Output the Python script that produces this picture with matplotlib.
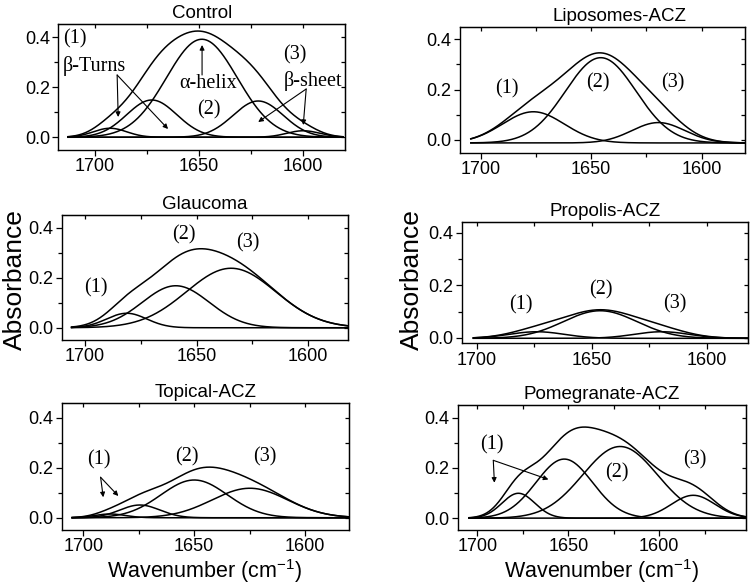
import numpy as np
import matplotlib
matplotlib.use('Agg')
import matplotlib.pyplot as plt
from matplotlib.ticker import MultipleLocator

#------------------------------------------------------------------------------
# Datos (bandas gaussianas de la amida I leidas de la figura)
#------------------------------------------------------------------------------

titulos = ['Control', 'Liposomes-ACZ', 'Glaucoma', 'Propolis-ACZ',
           'Topical-ACZ', 'Pomegranate-ACZ']

# Control
control_centros = [1692.6, 1672.6, 1648.6, 1621.6, 1600.0]
control_alturas = [0.036, 0.149, 0.392, 0.145, 0.026]
control_anchos = [8, 12, 17, 12, 8]
control_rango = [1712.7, 1581.0]
control_base = 0.0

# Liposomes-ACZ
lipo_centros = [1676.2, 1645.7, 1619.6]
lipo_alturas = [0.124, 0.339, 0.081]
lipo_anchos = [14, 16, 12]
lipo_rango = [1704.5, 1580.4]
lipo_base = -0.012

# Glaucoma
glau_centros = [1681.3, 1659.3, 1634.5]
glau_alturas = [0.058, 0.168, 0.238]
glau_anchos = [9, 15, 20]
glau_rango = [1706.0, 1582.1]
glau_base = 0.0

# Propolis-ACZ
prop_centros = [1674.0, 1646.4, 1619.6]
prop_alturas = [0.025, 0.105, 0.025]
prop_anchos = [12, 16, 12]
prop_rango = [1701.6, 1582.0]
prop_base = -0.002

# Topical-ACZ
topi_centros = [1688.0, 1674.5, 1650.0, 1624.9]
topi_alturas = [0.015, 0.051, 0.151, 0.118]
topi_anchos = [7, 9, 15, 17]
topi_rango = [1705.0, 1580.2]
topi_base = 0.0

# Pomegranate-ACZ
pome_centros = [1677.4, 1652.2, 1621.5, 1581.3]
pome_alturas = [0.099, 0.235, 0.285, 0.091]
pome_anchos = [9, 15.5, 20.5, 12]
pome_rango = [1704.5, 1552.5]
pome_base = 0.0

#------------------------------------------------------------------------------
# Funciones
#------------------------------------------------------------------------------

W, H = 750, 587


def rect_px(izq, der, arriba, abajo):
    # Convierte una caja en pixeles a coordenadas de figura
    return [izq / W, 1 - abajo / H, (der - izq) / W, (abajo - arriba) / H]


def dibujar_panel(ax, centros, alturas, anchos, rango, base):
    x = np.linspace(rango[0], rango[1], 600)
    total = np.zeros_like(x)
    for c, h, s in zip(centros, alturas, anchos):
        y = h * np.exp(-(x - c) ** 2 / (2 * s ** 2))
        total += y
        ax.plot(x, y + base, color='k', lw=1.1)
    ax.plot(x, total + base, color='k', lw=1.1)


def estilo_ejes(ax, xlim, ylim, titulo, tx=0.5):
    ax.set_xlim(xlim)
    ax.set_ylim(ylim)
    ax.xaxis.set_major_locator(MultipleLocator(50))
    ax.xaxis.set_minor_locator(MultipleLocator(25))
    ax.yaxis.set_major_locator(MultipleLocator(0.2))
    ax.yaxis.set_minor_locator(MultipleLocator(0.1))
    ax.tick_params(which='both', direction='out', labelsize=13, width=0.9,
                   pad=2)
    ax.tick_params(which='major', length=4)
    ax.tick_params(which='minor', length=3)
    for sp in ax.spines.values():
        sp.set_linewidth(1.0)
    # ticks hacia adentro arriba y a la derecha (estilo Origin)
    arriba = ax.secondary_xaxis('top')
    arriba.xaxis.set_major_locator(MultipleLocator(50))
    arriba.xaxis.set_minor_locator(MultipleLocator(25))
    arriba.tick_params(which='both', direction='in', labeltop=False,
                       length=3, width=0.9)
    derecha = ax.secondary_yaxis('right')
    derecha.yaxis.set_major_locator(MultipleLocator(0.1))
    derecha.tick_params(which='both', direction='in', labelright=False,
                        length=3, width=0.9)
    ax.set_title(titulo, fontsize=13.5, pad=4, x=tx)


def flecha(ax, cola, punta):
    ax.annotate('', xy=punta, xytext=cola,
                arrowprops=dict(arrowstyle='-|>', color='k', lw=0.8,
                                mutation_scale=7, shrinkA=0, shrinkB=0))


def etiqueta(ax, x, y, texto, ha='center'):
    ax.text(x, y, texto, fontsize=14.5, family='Liberation Serif',
            ha=ha, va='center')


#------------------------------------------------------------------------------
# Main
#------------------------------------------------------------------------------

plt.rcParams['font.family'] = 'Liberation Sans'
plt.rcParams['mathtext.fontset'] = 'custom'
plt.rcParams['mathtext.rm'] = 'Liberation Sans'

fig = plt.figure(figsize=(7.5, 5.87), dpi=100)

ax1 = fig.add_axes(rect_px(58.3, 345, 24, 150))
ax2 = fig.add_axes(rect_px(460, 745, 27, 153))
ax3 = fig.add_axes(rect_px(62, 348, 215, 340))
ax4 = fig.add_axes(rect_px(461.7, 748, 221.7, 343.3))
ax5 = fig.add_axes(rect_px(62, 349, 403, 530))
ax6 = fig.add_axes(rect_px(458, 746, 405, 530))

# Control
dibujar_panel(ax1, control_centros, control_alturas, control_anchos,
              control_rango, control_base)
estilo_ejes(ax1, (1717.4, 1580), (-0.051, 0.453), titulos[0])
etiqueta(ax1, 1715.1, 0.393, '(1)', ha='left')
etiqueta(ax1, 1715.1, 0.285, 'β-Turns', ha='left')
flecha(ax1, (1689.2, 0.249), (1688.7, 0.081))
flecha(ax1, (1689.2, 0.249), (1664.8, 0.033))
etiqueta(ax1, 1645.6, 0.213, 'α-helix')
flecha(ax1, (1648.5, 0.249), (1648.5, 0.369))
etiqueta(ax1, 1645.1, 0.109, '(2)')
etiqueta(ax1, 1603.9, 0.329, '(3)')
etiqueta(ax1, 1595.2, 0.225, 'β-sheet')
flecha(ax1, (1598.6, 0.193), (1621.6, 0.061))
flecha(ax1, (1598.6, 0.193), (1600.0, 0.049))

# Liposomes-ACZ
dibujar_panel(ax2, lipo_centros, lipo_alturas, lipo_anchos, lipo_rango,
              lipo_base)
estilo_ejes(ax2, (1709.4, 1580.4), (-0.052, 0.449), titulos[1], tx=0.558)
etiqueta(ax2, 1688.2, 0.205, '(1)')
etiqueta(ax2, 1647.2, 0.228, '(2)')
etiqueta(ax2, 1612.9, 0.228, '(3)')

# Glaucoma
dibujar_panel(ax3, glau_centros, glau_alturas, glau_anchos, glau_rango,
              glau_base)
estilo_ejes(ax3, (1710.3, 1582.1), (-0.049, 0.451), titulos[2])
etiqueta(ax3, 1694.9, 0.158, '(1)')
etiqueta(ax3, 1655.6, 0.371, '(2)')
etiqueta(ax3, 1627.1, 0.341, '(3)')

# Propolis-ACZ
dibujar_panel(ax4, prop_centros, prop_alturas, prop_anchos, prop_rango,
              prop_base)
estilo_ejes(ax4, (1706.7, 1582), (-0.021, 0.442), titulos[3])
etiqueta(ax4, 1680.9, 0.125, '(1)')
etiqueta(ax4, 1646.2, 0.184, '(2)')
etiqueta(ax4, 1613.9, 0.129, '(3)')

# Topical-ACZ
dibujar_panel(ax5, topi_centros, topi_alturas, topi_anchos, topi_rango,
              topi_base)
estilo_ejes(ax5, (1709.6, 1580.2), (-0.049, 0.459), titulos[4])
etiqueta(ax5, 1692.9, 0.231, '(1)')
flecha(ax5, (1692.2, 0.162), (1691.0, 0.082))
flecha(ax5, (1692.2, 0.162), (1684.2, 0.087))
etiqueta(ax5, 1653.3, 0.244, '(2)')
etiqueta(ax5, 1618.3, 0.244, '(3)')

# Pomegranate-ACZ
dibujar_panel(ax6, pome_centros, pome_alturas, pome_anchos, pome_rango,
              pome_base)
estilo_ejes(ax6, (1710.6, 1552.3), (-0.047, 0.450), titulos[5])
etiqueta(ax6, 1692.1, 0.292, '(1)')
flecha(ax6, (1691.2, 0.23), (1690.6, 0.141))
flecha(ax6, (1691.2, 0.23), (1660.9, 0.154))
etiqueta(ax6, 1623.3, 0.18, '(2)')
etiqueta(ax6, 1580.7, 0.233, '(3)')

# Etiquetas comunes
for xc in [14.5 / W, 412 / W]:
    fig.text(xc, 1 - 280 / H, 'Absorbance', rotation=90, fontsize=19,
             ha='center', va='center')
for xc in [205 / W, 602 / W]:
    fig.text(xc, 1 - 578 / H, 'Wavenumber (cm$^{-1}$)', fontsize=15.5,
             ha='center', va='baseline')

fig.savefig('out.png', dpi=100)
